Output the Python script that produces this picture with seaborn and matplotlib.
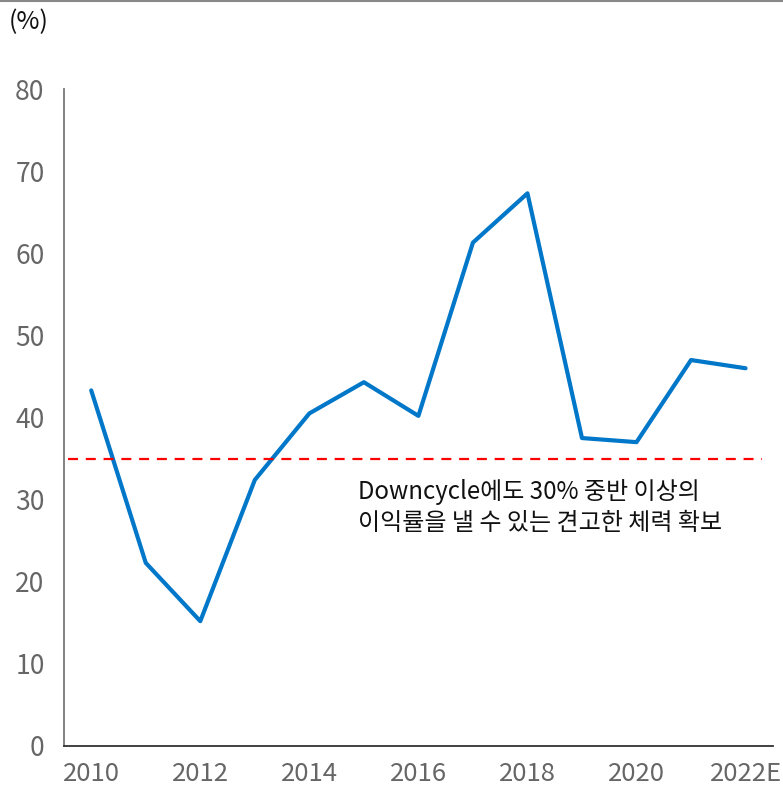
import numpy as np
import pandas as pd
import matplotlib as mpl
import matplotlib.pyplot as plt
import seaborn as sns
from matplotlib.lines import Line2D

# 영업이익률 (%)
years = ['2010', '2011', '2012', '2013', '2014', '2015', '2016',
         '2017', '2018', '2019', '2020', '2021', '2022E']
margin = [43.3, 22.3, 15.2, 32.4, 40.5, 44.3, 40.2,
          61.3, 67.3, 37.5, 37.0, 47.0, 46.0]
ref_level = 35
note = 'Downcycle에도 30% 중반 이상의\n이익률을 낼 수 있는 견고한 체력 확보'

sns.set_style('white')
plt.rcParams['font.family'] = ['Noto Sans CJK KR', 'DejaVu Sans']
plt.rcParams['font.weight'] = 'light'

df = pd.DataFrame({'pos': np.arange(len(years)), 'year': years, 'margin': margin})

fig = plt.figure(figsize=(7.83, 7.88), dpi=100)
ax = fig.add_axes([0.0817, 0.0533, 0.9053, 0.8337])

sns.lineplot(data=df, x='pos', y='margin', color='#0077C8', linewidth=3.0, ax=ax)
ax.axhline(ref_level, xmin=0.006, xmax=0.985, color='#FF0000', linewidth=1.6,
           dashes=(4.5, 3.5))

ax.text(4.9, 29.0, note, fontsize=17.3, color='#111111', va='center', ha='left',
        linespacing=1.25)

ax.set_xlim(-0.5, len(years) - 0.5)
ax.set_ylim(0, 80)
ax.set_yticks(range(0, 81, 10))
ax.set_xticks(df['pos'][::2])
ax.set_xticklabels(df['year'][::2])
ax.set_xticks(np.arange(-0.5, len(years), 1), minor=True)
ax.tick_params(axis='x', which='major', length=0, pad=11, labelsize=18.5, labelcolor='#666666')
ax.tick_params(axis='x', which='minor', length=6, width=1.2, color='#333333', direction='out')
ax.tick_params(axis='y', length=6, width=1.2, color='#666666', direction='out',
               labelsize=19, labelcolor='#666666', pad=8)
ax.set_xlabel('')
ax.set_ylabel('')

for s in ['top', 'right']:
    ax.spines[s].set_visible(False)
ax.spines['left'].set_color('#777777')
ax.spines['left'].set_linewidth(1.3)
ax.spines['bottom'].set_color('#333333')
ax.spines['bottom'].set_linewidth(1.3)

fig.text(0.011, 0.972, '(%)', fontsize=18, color='#111111', va='center', ha='left')
fig.add_artist(Line2D([0, 1], [0.999, 0.999], color='#888888', linewidth=1.5,
                      transform=fig.transFigure))

fig.savefig('out.png', dpi=100)
